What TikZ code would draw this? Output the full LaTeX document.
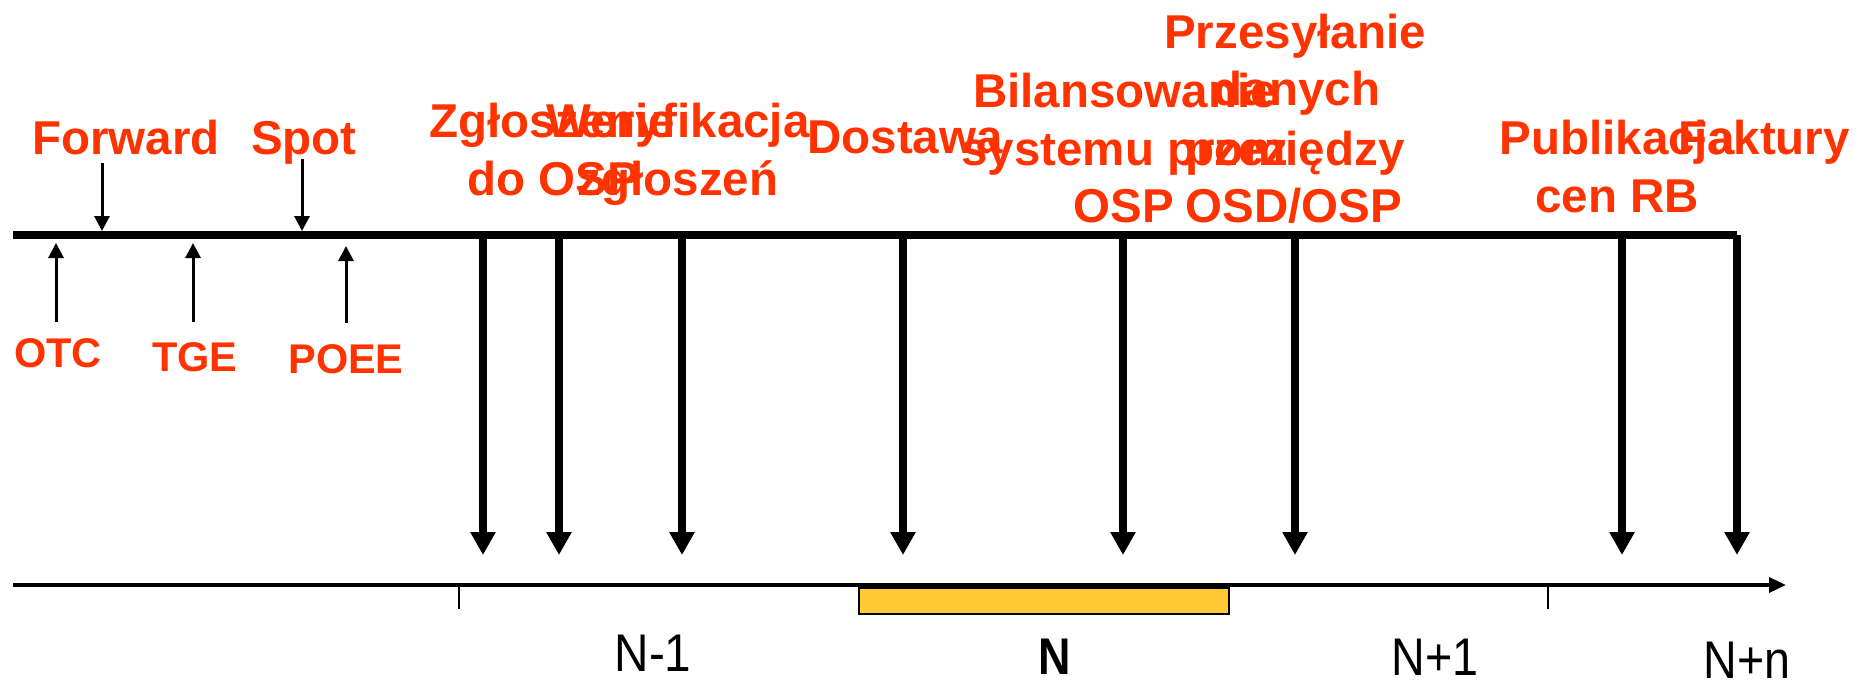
\documentclass[tikz,border=0pt]{standalone}
\usepackage{fontspec}
\setmainfont{Liberation Sans}
\usetikzlibrary{arrows.meta}
\definecolor{labred}{HTML}{FF3300}
\definecolor{boxyellow}{HTML}{FFC933}
\begin{document}
\begin{tikzpicture}[x=0.5pt,y=-0.5pt,
  redlab/.style={text=labred,font=\bfseries\fontsize{23.75}{28}\selectfont,inner sep=0pt,anchor=base},
  redsmall/.style={text=labred,font=\bfseries\fontsize{20.75}{25}\selectfont,inner sep=0pt,anchor=base},
  axlab/.style={text=black,font=\fontsize{26.5}{30}\selectfont,inner sep=0pt,anchor=base},
  bigarrow/.style={line width=4pt,-{Triangle[length=11.5pt,width=12pt]}},
  smallarrow/.style={line width=1.5pt,-{Triangle[length=7.5pt,width=7.5pt]}},
  timeline/.style={line width=4pt},
  axisline/.style={line width=1.7pt,-{Triangle[length=8.5pt,width=7.5pt]}},
  tickline/.style={line width=1pt},
  periodbox/.style={draw=black,line width=1pt,fill=boxyellow}]
\useasboundingbox (0,0) rectangle (1870,681);

% upper timeline
\coordinate (tlS) at (13,235);
\coordinate (tlE) at (1737,235);
\draw[timeline] (tlS) -- (tlE);

% small arrows from above
\coordinate (fwdS) at (102,163); \coordinate (fwdE) at (102,231);
\coordinate (spotS) at (302,159); \coordinate (spotE) at (302,231);
\draw[smallarrow] (fwdS) -- (fwdE);
\draw[smallarrow] (spotS) -- (spotE);
% small arrows from below
\coordinate (otcS) at (56,322); \coordinate (otcE) at (56,243);
\coordinate (tgeS) at (193,322); \coordinate (tgeE) at (193,243);
\coordinate (poeeS) at (346,323); \coordinate (poeeE) at (346,246);
\draw[smallarrow] (otcS) -- (otcE);
\draw[smallarrow] (tgeS) -- (tgeE);
\draw[smallarrow] (poeeS) -- (poeeE);

% big arrows
\foreach \n/\x in {a1/483,a2/559,a3/682,a4/903,a5/1123,a6/1295,a7/1622,a8/1737}{
  \coordinate (\n s) at (\x,235);
  \coordinate (\n t) at (\x,555);
  \draw[bigarrow] (\n s) -- (\n t);
}

% bottom axis
\coordinate (axS) at (13,585);
\coordinate (axE) at (1786,585);
\node[periodbox,inner sep=0pt,minimum width=185pt,minimum height=13pt,anchor=north west] (box) at (858,587) {};
\draw[axisline] (axS) -- (axE);
\coordinate (tk1s) at (459,585); \coordinate (tk1e) at (459,609);
\coordinate (tk2s) at (1548,585); \coordinate (tk2e) at (1548,609);
\draw[tickline] (tk1s) -- (tk1e);
\draw[tickline] (tk2s) -- (tk2e);

% labels
\node[redlab] (fwd) at (126,154) {Forward};
\node[redlab] (spot) at (304,154) {Spot};
\node[redsmall] (otc) at (58,367) {OTC};
\node[redsmall] (tge) at (195,371) {TGE};
\node[redsmall] (poee) at (346,373) {POEE};

\node[redlab] (zg1) at (552,137) {Zgłoszenie};
\node[redlab] (zg2) at (553,195) {do OSP};
\node[redlab] (wer1) at (678,137) {Weryfikacja};
\node[redlab] (wer2) at (678,195) {zgłoszeń};
\node[redlab] (dost) at (905,153) {Dostawa};
\node[redlab] (bil1) at (1125,107) {Bilansowanie};
\node[redlab] (bil2) at (1125,165) {systemu przez};
\node[redlab] (bil3) at (1124,222) {OSP};
\node[redlab] (prz1) at (1295,48) {Przesyłanie};
\node[redlab] (prz2) at (1297,105) {danych};
\node[redlab] (prz3) at (1295,165) {pomiędzy};
\node[redlab] (prz4) at (1294,222) {OSD/OSP};
\node[redlab] (pub1) at (1617,154) {Publikacja};
\node[redlab] (pub2) at (1617,212) {cen RB};
\node[redlab] (fak) at (1764,154) {Faktury};

\node[axlab] (nm1) at (653,671) {\scalebox{0.9}[1]{N-1}};
\node[axlab,font=\bfseries\fontsize{25.8}{30}\selectfont] (n0) at (1055,674) {\scalebox{0.87}[1]{N}};
\node[axlab] (np1) at (1435,675) {\scalebox{0.88}[1]{N+1}};
\node[axlab] (npn) at (1747,678) {\scalebox{0.88}[1]{N+n}};
\end{tikzpicture}
\end{document}
